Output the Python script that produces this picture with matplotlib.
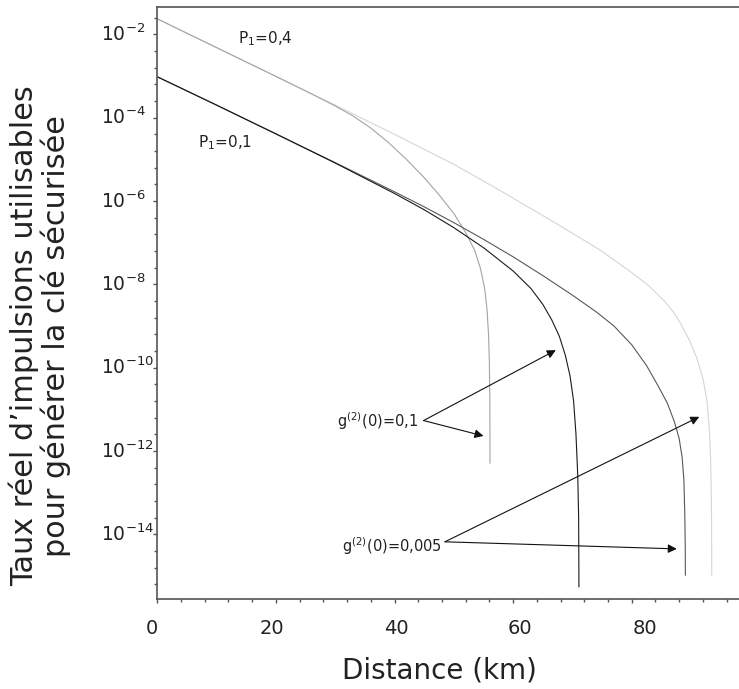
import numpy as np
import matplotlib.pyplot as plt
import matplotlib.transforms as mtransforms
from matplotlib.ticker import MultipleLocator, FixedLocator, NullFormatter

# distance (km) and log10 of the usable pulse rate
p04_g01_km = [0, 10, 20, 26, 30, 33, 36, 39, 42, 45, 47.5, 50, 52, 53.5, 54.5, 55.2,
              55.6, 55.85, 56.0, 56.08, 56.1]
p04_g01_exp = [-1.63, -2.32, -3.01, -3.43, -3.72, -3.96, -4.25, -4.60, -5.00, -5.44, -5.85,
               -6.30, -6.76, -7.18, -7.62, -8.10, -8.60, -9.20, -9.90, -10.80, -12.29]

p04_g0005_km = [0, 10, 20, 30, 40, 50, 57.8, 66.2, 74.7, 80, 82.6, 85.5, 87.0, 88.2, 89.8,
                91.0, 92.0, 92.7, 93.1, 93.3, 93.45, 93.5]
p04_g0005_exp = [-1.63, -2.32, -3.01, -3.70, -4.40, -5.12, -5.75, -6.45, -7.18, -7.72, -8.00,
                 -8.40, -8.66, -8.93, -9.36, -9.78, -10.25, -10.80, -11.50, -12.20, -13.20, -14.98]

p01_g01_km = [0, 10, 20, 30, 40, 45, 50, 55, 60, 63, 65, 66.5, 67.8, 68.8, 69.6, 70.2,
              70.6, 70.9, 71.05, 71.1]
p01_g01_exp = [-3.02, -3.70, -4.39, -5.09, -5.82, -6.21, -6.64, -7.12, -7.68, -8.10, -8.48,
               -8.85, -9.25, -9.70, -10.20, -10.80, -11.60, -12.60, -13.60, -15.26]

p01_g0005_km = [0, 10, 20, 30, 40, 45, 50, 55, 60, 65, 70, 74, 77, 80, 82.5, 84.5, 86,
                87.2, 88.0, 88.5, 88.8, 88.95, 89.03, 89.05]
p01_g0005_exp = [-3.02, -3.70, -4.39, -5.08, -5.78, -6.14, -6.52, -6.92, -7.34, -7.79, -8.26,
                 -8.66, -9.00, -9.45, -9.95, -10.45, -10.85, -11.30, -11.70, -12.15, -12.70,
                 -13.50, -14.30, -14.98]

xtick_km = [0, 20, 40, 60, 80]
ytick_exp = [-2, -4, -6, -8, -10, -12, -14]

fig = plt.figure(figsize=(7.39, 6.89), dpi=100)
ax = fig.add_axes([0.2129, 0.1306, 0.8024, 0.8588])

ax.plot(p04_g0005_km, 10 ** np.array(p04_g0005_exp), color='#d6d6d6', lw=0.8)
ax.plot(p04_g01_km, 10 ** np.array(p04_g01_exp), color='#a4a4a4', lw=0.8)
ax.plot(p01_g0005_km, 10 ** np.array(p01_g0005_exp), color='#585858', lw=0.8)
ax.plot(p01_g01_km, 10 ** np.array(p01_g01_exp), color='#1a1a1a', lw=0.8)

ax.set_yscale('log')
ax.set_xlim(0, 100)
ax.set_ylim(10 ** -15.553, 10 ** -1.352)

# ticks
ax.set_xticks(xtick_km)
ax.xaxis.set_minor_locator(MultipleLocator(4))
ax.set_yticks([10.0 ** e for e in ytick_exp],
              labels=[r'$10^{-%d}$' % (-e) for e in ytick_exp],
              ha='left', va='center')
minor = [10 ** e for e in np.arange(-15.2, -1.5, 0.4) if abs(e - round(e)) > 0.05 or round(e) % 2]
ax.yaxis.set_minor_locator(FixedLocator(minor))
ax.yaxis.set_minor_formatter(NullFormatter())

ax.tick_params(axis='both', which='major', length=3.2, width=1, color='#555555',
               labelsize=13.5, labelcolor='#222222', direction='out')
ax.tick_params(axis='both', which='minor', length=2, width=1, color='#555555', direction='out')
ax.tick_params(axis='y', which='major', pad=37)
ax.tick_params(axis='x', which='major', pad=11, labelsize=14)

# the x labels in the original drift a little to the right of their ticks
for lab, dx in zip(ax.get_xticklabels(), [-5, -4, 2, 7, 13]):
    off = mtransforms.ScaledTranslation(dx / 100, 0, fig.dpi_scale_trans)
    lab.set_transform(lab.get_transform() + off)

for s in ax.spines.values():
    s.set_color('#555555')
    s.set_linewidth(1.2)

# labels
fig.text(439 / 739, 1 - 670 / 689, 'Distance (km)', ha='center', va='center',
         fontsize=20, color='#222222')
fig.text(40 / 739, 1 - 336 / 689,
         'Taux réel d\u2019impulsions utilisables\npour générer la clé sécurisée',
         rotation=90, ha='center', va='center', multialignment='center',
         fontsize=21.8, linespacing=1.05, color='#222222')

ax.text(13.6, 10 ** -2.22, r'P$_1$=0,4', fontsize=11, va='baseline', color='#222222')
ax.text(6.9, 10 ** -4.70, r'P$_1$=0,1', fontsize=11, va='baseline', color='#222222')

ax.text(44.0, 10 ** -11.42, r'g$^{(2)}$(0)=0,1', fontsize=10.5, ha='right',
        va='baseline', color='#222222')
ax.text(48.0, 10 ** -14.42, r'g$^{(2)}$(0)=0,005', fontsize=10.5, ha='right',
        va='baseline', color='#222222')

arrow = dict(arrowstyle='-|>', color='#111111', lw=0.8, mutation_scale=13,
             shrinkA=0, shrinkB=0)
for tip in [(67.2, 10 ** -9.58), (55.0, 10 ** -11.64)]:
    ax.annotate('', xy=tip, xytext=(44.9, 10 ** -11.27), arrowprops=arrow)
for tip in [(91.4, 10 ** -11.18), (87.6, 10 ** -14.35)]:
    ax.annotate('', xy=tip, xytext=(48.5, 10 ** -14.18), arrowprops=arrow)

plt.savefig('out.png', dpi=100)
